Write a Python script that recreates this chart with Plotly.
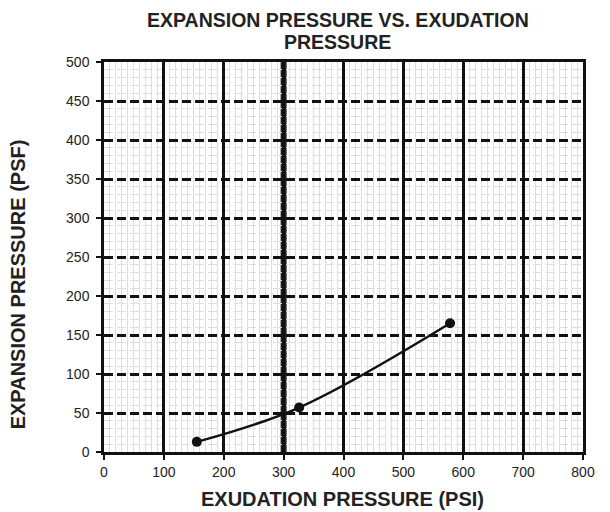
import plotly.graph_objects as go

exudation_psi = [155, 326, 578]
expansion_psf = [13, 57, 165]
x_ticks = [0, 100, 200, 300, 400, 500, 600, 700, 800]
y_ticks = [0, 50, 100, 150, 200, 250, 300, 350, 400, 450, 500]
marker_x = 300

fig = go.Figure()
fig.add_trace(go.Scatter(
    x=exudation_psi, y=expansion_psf, mode="lines+markers",
    line=dict(color="#111111", width=2.5, shape="spline"),
    marker=dict(color="#111111", size=10), showlegend=False))

fig.add_shape(type="line", x0=marker_x, x1=marker_x, y0=0, y1=500,
              xref="x", yref="y", line=dict(color="#222222", width=6), layer="below")

font_family = "Liberation Sans, Arial, sans-serif"
txt = "#222222"
fig.update_layout(
    width=602, height=504,
    margin=dict(l=96, r=27, t=54, b=60),
    paper_bgcolor="white", plot_bgcolor="white",
    font=dict(family=font_family, color=txt),
    annotations=[
        dict(text="<b>EXPANSION PRESSURE VS. EXUDATION</b>", xref="paper", yref="paper",
             x=0.4885, y=1.108, xanchor="center", yanchor="middle", showarrow=False,
             font=dict(size=19.5, color=txt)),
        dict(text="<b>PRESSURE</b>", xref="paper", yref="paper",
             x=0.4885, y=1.052, xanchor="center", yanchor="middle", showarrow=False,
             font=dict(size=19.5, color=txt)),
        dict(text="<b>EXPANSION PRESSURE (PSF)</b>", xref="paper", yref="paper",
             x=-0.1795, y=0.43, xanchor="center", yanchor="middle", showarrow=False,
             textangle=-90, font=dict(size=20, color=txt)),
        dict(text="<b>EXUDATION PRESSURE (PSI)</b>", xref="paper", yref="paper",
             x=0.497, y=-0.1205, xanchor="center", yanchor="middle", showarrow=False,
             font=dict(size=20, color=txt)),
    ],
)
fig.update_xaxes(
    range=[0, 800], tickvals=x_ticks, ticktext=[str(v) for v in x_ticks],
    showgrid=True, gridcolor="#111111", gridwidth=2.5,
    minor=dict(dtick=10, showgrid=True, gridcolor="#dedede", gridwidth=1),
    showline=True, linecolor="#111111", linewidth=2.5, mirror=True,
    ticks="outside", ticklen=5, tickcolor="#111111", tickwidth=2,
    zeroline=False, tickfont=dict(size=14, color=txt),
)
fig.update_yaxes(
    range=[0, 500], tickvals=y_ticks, ticktext=[str(v) for v in y_ticks],
    showgrid=True, gridcolor="#111111", gridwidth=2.5, griddash="9px,4px",
    minor=dict(dtick=10, showgrid=True, gridcolor="#dedede", gridwidth=1),
    showline=True, linecolor="#111111", linewidth=2.5, mirror=True,
    ticks="outside", ticklen=5, tickcolor="#111111", tickwidth=2,
    zeroline=False, tickfont=dict(size=14, color=txt), ticklabelstandoff=4,
)
fig.write_html("out.html")
